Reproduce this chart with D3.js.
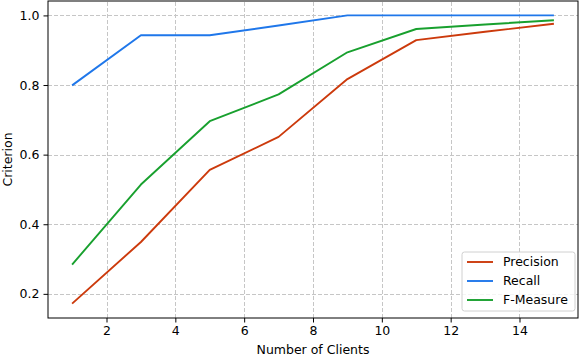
<!DOCTYPE html>
<html>
<head>
<meta charset="utf-8">
<script src="https://cdn.jsdelivr.net/npm/d3@7"></script>
<style>
  body { margin: 0; background: #fff; }
  svg { display: block; font-family: "DejaVu Sans", sans-serif; }
</style>
</head>
<body>
<div id="chart"></div>
<script>
// values
const clients = [1, 3, 5, 7, 9, 11, 13, 15];
const precision = [0.172, 0.349, 0.556, 0.651, 0.817, 0.929, 0.953, 0.976];
const recall = [0.799, 0.943, 0.943, 0.971, 1.0, 1.0, 1.0, 1.0];
const fmeasure = [0.284, 0.514, 0.696, 0.773, 0.894, 0.961, 0.974, 0.986];
const xTicks = [2, 4, 6, 8, 10, 12, 14];
const yTicks = [0.2, 0.4, 0.6, 0.8, 1.0];

const series = [
    { name: "Precision", values: precision, color: "#cc3a0c" },
    { name: "Recall", values: recall, color: "#1f77ea" },
    { name: "F-Measure", values: fmeasure, color: "#18a02e" }
];

const width = 580, height = 356;
const margin = { top: 1, right: 2, bottom: 38, left: 48 };
const fontSize = 12.5;

const svg = d3.select("#chart").append("svg")
    .attr("width", width)
    .attr("height", height);

// matplotlib-like 5% padding around the data
const xMin = d3.min(clients), xMax = d3.max(clients);
const xPad = (xMax - xMin) * 0.05;
const allY = precision.concat(recall, fmeasure);
const yMin = d3.min(allY), yMax = d3.max(allY);
const yPad = (yMax - yMin) * 0.05;

const x = d3.scaleLinear()
    .domain([xMin - xPad, xMax + xPad])
    .range([margin.left, width - margin.right]);

const y = d3.scaleLinear()
    .domain([yMin - yPad, yMax + yPad])
    .range([height - margin.bottom, margin.top]);

// grid
const grid = svg.append("g")
    .attr("stroke", "#c6c6c6")
    .attr("stroke-width", 1)
    .attr("stroke-dasharray", "4,2");

grid.selectAll("line.gx")
    .data(xTicks)
    .enter().append("line")
    .attr("x1", d => Math.round(x(d)) + 0.5)
    .attr("x2", d => Math.round(x(d)) + 0.5)
    .attr("y1", y.range()[0])
    .attr("y2", y.range()[1]);

grid.selectAll("line.gy")
    .data(yTicks)
    .enter().append("line")
    .attr("x1", x.range()[0])
    .attr("x2", x.range()[1])
    .attr("y1", d => Math.round(y(d)) + 0.5)
    .attr("y2", d => Math.round(y(d)) + 0.5);

// lines
const line = d3.line()
    .x((d, i) => x(clients[i]))
    .y(d => y(d));

svg.append("g")
    .selectAll("path")
    .data(series)
    .enter().append("path")
    .attr("fill", "none")
    .attr("stroke", d => d.color)
    .attr("stroke-width", 1.9)
    .attr("stroke-linejoin", "round")
    .attr("d", d => line(d.values));

// axes
const xAxis = svg.append("g")
    .attr("transform", `translate(0,${height - margin.bottom})`)
    .call(d3.axisBottom(x).tickValues(xTicks).tickSize(4.5).tickPadding(4).tickFormat(d3.format("d")));

const yAxis = svg.append("g")
    .attr("transform", `translate(${margin.left},0)`)
    .call(d3.axisLeft(y).tickValues(yTicks).tickSize(4.5).tickPadding(4).tickFormat(d3.format(".1f")));

[xAxis, yAxis].forEach(a => {
    a.select(".domain").remove();
    a.selectAll(".tick line").attr("stroke", "#000").attr("stroke-width", 1);
    a.selectAll(".tick text")
        .attr("fill", "#000")
        .style("font-family", "DejaVu Sans")
        .style("font-size", fontSize + "px");
});

// frame
svg.append("rect")
    .attr("x", x.range()[0])
    .attr("y", y.range()[1])
    .attr("width", x.range()[1] - x.range()[0])
    .attr("height", y.range()[0] - y.range()[1])
    .attr("fill", "none")
    .attr("stroke", "#000")
    .attr("stroke-width", 1);

// axis labels
svg.append("text")
    .attr("x", (x.range()[0] + x.range()[1]) / 2)
    .attr("y", 354)
    .attr("text-anchor", "middle")
    .style("font-size", fontSize + "px")
    .text("Number of Clients");

svg.append("text")
    .attr("transform", `translate(12,${(y.range()[0] + y.range()[1]) / 2}) rotate(-90)`)
    .attr("text-anchor", "middle")
    .style("font-size", fontSize + "px")
    .text("Criterion");

// legend
const legend = svg.append("g").attr("transform", "translate(462,252)");

legend.append("rect")
    .attr("width", 113)
    .attr("height", 59)
    .attr("rx", 2.5)
    .attr("fill", "#fff")
    .attr("fill-opacity", 0.8)
    .attr("stroke", "#d0d0d0")
    .attr("stroke-width", 1);

const item = legend.selectAll("g.item")
    .data(series)
    .enter().append("g")
    .attr("transform", (d, i) => `translate(0,${10 + i * 19})`);

item.append("line")
    .attr("x1", 5)
    .attr("x2", 31)
    .attr("stroke", d => d.color)
    .attr("stroke-width", 1.9);

item.append("text")
    .attr("x", 41)
    .attr("dy", "0.35em")
    .style("font-size", fontSize + "px")
    .text(d => d.name);
</script>
</body>
</html>
